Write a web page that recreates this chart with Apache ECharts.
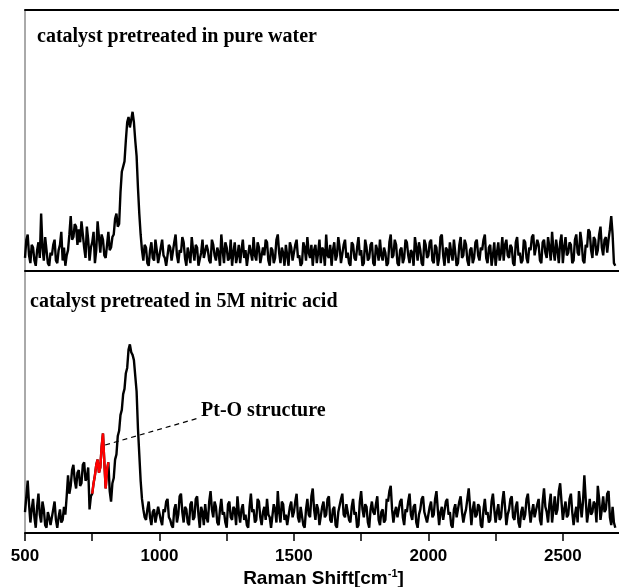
<!DOCTYPE html>
<html>
<head>
<meta charset="utf-8">
<script src="https://cdn.jsdelivr.net/npm/echarts@6/dist/echarts.min.js"></script>
<style>html,body{margin:0;padding:0;background:#fff;}#c{width:619px;height:587px;}</style>
</head>
<body>
<div id="c"></div>
<script>
// Raman shift sampling grid (cm^-1)
const xStart = 500;
const xStep = 5;
// Top panel: catalyst pretreated in pure water (intensity, arbitrary units)
const topValues = [
  5, 12, 14, 6, 3, 10, 9, 4, 2, 8, 11, 5, 22, 9, 4, 13, 8, 3, 2, 7,
  6, 10, 12, 4, 3, 8, 10, 15, 4, 9, 2, 6, 8, 14, 21, 12, 13, 18, 17, 10,
  16, 11, 19, 14, 9, 5, 17, 12, 4, 9, 11, 15, 3, 8, 19, 13, 7, 14, 12, 6,
  5, 10, 15, 8, 9, 13, 14, 20, 22, 17, 18, 30, 38, 40, 42, 50, 57, 59, 55, 58,
  61, 57, 50, 44, 32, 22, 14, 8, 4, 10, 9, 3, 2, 8, 11, 5, 4, 12, 8, 3,
  3, 9, 12, 6, 5, 2, 2, 10, 9, 4, 4, 11, 14, 6, 3, 8, 7, 13, 11, 5,
  2, 9, 6, 3, 13, 8, 4, 10, 9, 2, 2, 7, 12, 5, 5, 10, 8, 4, 3, 12,
  10, 6, 4, 9, 7, 2, 14, 8, 3, 11, 9, 4, 5, 12, 2, 7, 11, 3, 6, 10,
  3, 8, 12, 5, 8, 2, 2, 10, 7, 4, 13, 6, 4, 11, 9, 3, 3, 9, 6, 12,
  11, 4, 2, 9, 8, 3, 5, 12, 14, 7, 3, 9, 7, 2, 10, 6, 2, 11, 9, 4,
  4, 10, 12, 5, 6, 2, 3, 11, 9, 4, 13, 7, 5, 10, 2, 8, 10, 3, 7, 12,
  3, 9, 8, 2, 14, 6, 5, 10, 2, 8, 11, 4, 6, 13, 9, 3, 3, 10, 12, 5,
  7, 3, 2, 11, 10, 5, 4, 9, 13, 6, 8, 2, 3, 12, 9, 4, 5, 10, 11, 3,
  2, 10, 8, 4, 12, 6, 4, 9, 7, 2, 3, 11, 14, 5, 6, 12, 10, 3, 2, 8,
  9, 3, 5, 12, 11, 6, 3, 8, 7, 2, 13, 9, 4, 11, 8, 3, 2, 12, 10, 5,
  6, 11, 12, 4, 3, 10, 9, 2, 5, 13, 14, 6, 2, 9, 8, 3, 11, 7, 4, 12,
  7, 2, 3, 10, 13, 5, 6, 12, 10, 4, 2, 8, 9, 3, 5, 11, 12, 6, 4, 9,
  8, 12, 14, 5, 3, 9, 10, 2, 6, 11, 2, 7, 11, 4, 7, 13, 4, 10, 12, 6,
  5, 10, 9, 3, 2, 11, 13, 6, 7, 3, 4, 12, 11, 5, 3, 9, 8, 13, 14, 6,
  6, 12, 10, 4, 3, 11, 12, 7, 5, 13, 9, 4, 15, 8, 4, 12, 8, 3, 11, 14,
  3, 9, 13, 6, 7, 11, 10, 3, 4, 12, 14, 7, 6, 15, 11, 4, 3, 10, 9, 16,
  15, 8, 5, 13, 12, 6, 8, 14, 17, 9, 6, 12, 13, 7, 12, 16, 21, 14, 3, 2
];
// Bottom panel: catalyst pretreated in 5M nitric acid
const bottomValues = [
  8, 14, 20, 11, 4, 9, 13, 6, 2, 10, 15, 7, 4, 12, 9, 3, 2, 8, 6, 3,
  3, 9, 12, 5, 2, 6, 9, 4, 5, 10, 7, 14, 22, 15, 18, 24, 26, 20, 17, 23,
  24, 18, 19, 26, 27, 20, 21, 25, 9, 14, 15, 19, 22, 26, 28, 23, 25, 33, 38, 27,
  17, 24, 27, 16, 12, 19, 21, 28, 30, 37, 39, 45, 47, 53, 55, 61, 63, 70, 72, 69,
  68, 66, 60, 54, 40, 30, 20, 13, 9, 6, 5, 9, 12, 6, 3, 8, 9, 4, 4, 10,
  10, 5, 3, 9, 8, 12, 13, 6, 5, 3, 2, 9, 11, 4, 7, 14, 15, 8, 4, 10,
  9, 4, 3, 11, 12, 5, 6, 13, 14, 7, 2, 10, 8, 3, 11, 6, 4, 12, 16, 9,
  6, 12, 10, 4, 3, 9, 13, 7, 8, 4, 2, 11, 12, 6, 5, 10, 9, 3, 14, 8,
  4, 9, 11, 5, 7, 3, 2, 10, 15, 8, 9, 4, 5, 13, 12, 6, 3, 8, 10, 5,
  13, 7, 6, 2, 2, 11, 9, 4, 16, 8, 4, 12, 11, 5, 7, 3, 3, 10, 12, 6,
  8, 12, 15, 6, 4, 10, 10, 3, 2, 9, 13, 7, 6, 14, 17, 9, 5, 11, 9, 3,
  3, 10, 12, 6, 7, 13, 14, 5, 4, 9, 10, 3, 2, 8, 8, 13, 15, 7, 6, 11,
  11, 5, 4, 10, 13, 7, 8, 2, 3, 12, 16, 9, 6, 11, 10, 4, 2, 9, 12, 8,
  7, 11, 14, 5, 3, 8, 9, 4, 5, 13, 12, 16, 18, 9, 4, 8, 10, 6, 6, 12,
  13, 6, 3, 9, 8, 12, 15, 7, 5, 10, 11, 4, 2, 7, 9, 13, 14, 8, 6, 4,
  4, 10, 12, 6, 7, 13, 16, 9, 3, 8, 10, 5, 5, 12, 13, 7, 8, 3, 2, 9,
  11, 6, 6, 12, 14, 8, 4, 7, 9, 13, 17, 10, 3, 9, 12, 6, 7, 11, 10, 3,
  2, 9, 13, 7, 8, 4, 5, 12, 15, 9, 4, 8, 11, 5, 6, 12, 16, 10, 3, 7,
  9, 13, 14, 6, 5, 10, 12, 4, 2, 8, 10, 5, 7, 13, 15, 9, 4, 8, 11, 6,
  6, 11, 13, 5, 3, 12, 17, 10, 8, 4, 11, 15, 4, 9, 14, 7, 9, 16, 19, 12,
  5, 9, 12, 6, 7, 13, 15, 8, 3, 7, 10, 4, 16, 11, 6, 12, 22, 13, 4, 8,
  13, 7, 8, 12, 11, 4, 18, 13, 5, 9, 14, 8, 9, 15, 16, 6, 3, 10, 4, 2
];
// Pt-O structure highlighted range (cm^-1)
const redRange = [750, 810];
// Axis settings
const xMin = 500, xMax = 2720, xInterval = 500;
const panelTitles = ['catalyst pretreated in pure water', 'catalyst pretreated in 5M nitric acid'];
const annotationText = 'Pt-O structure';

const toPairs = vals => vals.map((v, i) => [xStart + i * xStep, v]);
const topData = toPairs(topValues);
const bottomData = toPairs(bottomValues);
const redData = bottomData.filter(p => p[0] >= redRange[0] && p[0] <= redRange[1]);

const chart = echarts.init(document.getElementById('c'), null, {renderer: 'canvas'});
const serifBold = 'bold 20px "Liberation Serif", "Times New Roman", serif';
const sans = '"Liberation Sans", Arial, sans-serif';
const option = {
  animation: false,
  backgroundColor: '#fff',
  grid: [
    {left: 25, top: 10, width: 597, height: 261, show: true, borderColor: '#555', borderWidth: 1,
     backgroundColor: 'transparent', containLabel: false, outerBoundsMode: 'none'},
    {left: 25, top: 271, width: 597, height: 262, show: true, borderColor: '#555', borderWidth: 1,
     backgroundColor: 'transparent', containLabel: false, outerBoundsMode: 'none'}
  ],
  xAxis: [
    {gridIndex: 0, type: 'value', min: xMin, max: xMax, interval: xInterval, position: 'bottom',
     axisLine: {show: true, onZero: false, lineStyle: {color: '#000', width: 2}},
     axisTick: {show: false}, axisLabel: {show: false}, splitLine: {show: false}},
    {gridIndex: 0, type: 'value', min: xMin, max: xMax, interval: xInterval, position: 'top',
     axisLine: {show: true, onZero: false, lineStyle: {color: '#000', width: 2}},
     axisTick: {show: false}, axisLabel: {show: false}, splitLine: {show: false}},
    {gridIndex: 1, type: 'value', min: xMin, max: xMax, interval: xInterval, position: 'bottom',
     axisLine: {show: true, onZero: false, lineStyle: {color: '#000', width: 2}},
     axisTick: {show: true, inside: false, length: 8, lineStyle: {color: '#000', width: 1.5}},
     minorTick: {show: true, splitNumber: 2, length: 8, lineStyle: {color: '#000', width: 1.5}},
     splitLine: {show: false},
     axisLabel: {show: true, margin: 15, color: '#000', fontFamily: sans, fontWeight: 'bold', fontSize: 17,
       showMaxLabel: false, formatter: v => String(v)},
     name: 'Raman Shift[cm{s|-1}]',
     nameLocation: 'middle', nameGap: 35,
     nameTextStyle: {color: '#000', fontFamily: sans, fontWeight: 'bold', fontSize: 19,
       rich: {s: {fontSize: 11, fontWeight: 'bold', fontFamily: sans, verticalAlign: 'top', padding: [0, 0, 10, 0], color: '#000'}}}
    }
  ],
  yAxis: [
    {gridIndex: 0, type: 'value', min: 0, max: 100, show: false},
    {gridIndex: 1, type: 'value', min: 0, max: 100, show: false}
  ],
  series: [
    {type: 'line', xAxisIndex: 0, yAxisIndex: 0, data: topData, showSymbol: false, silent: true,
     lineStyle: {color: '#000', width: 2.4}},
    {type: 'line', xAxisIndex: 2, yAxisIndex: 1, data: bottomData, showSymbol: false, silent: true,
     lineStyle: {color: '#000', width: 2.4},
     markLine: {silent: true, symbol: ['none', 'none'], label: {show: false},
       lineStyle: {color: '#000', type: [5, 4], width: 1.2},
       data: [[{coord: [798, 33.6]}, {coord: [1150, 44]}]]}},
    {type: 'line', xAxisIndex: 2, yAxisIndex: 1, data: redData, showSymbol: false, silent: true,
     lineStyle: {color: '#ff0000', width: 2.4}}
  ],
  graphic: [
    {type: 'text', left: 37, top: 27, style: {text: panelTitles[0], font: serifBold, fill: '#000'}},
    {type: 'text', left: 30, top: 292, style: {text: panelTitles[1], font: serifBold, fill: '#000'}},
    {type: 'text', left: 201, top: 401, style: {text: annotationText, font: serifBold, fill: '#000'}}
  ]
};
chart.setOption(option);
</script>
</body>
</html>
